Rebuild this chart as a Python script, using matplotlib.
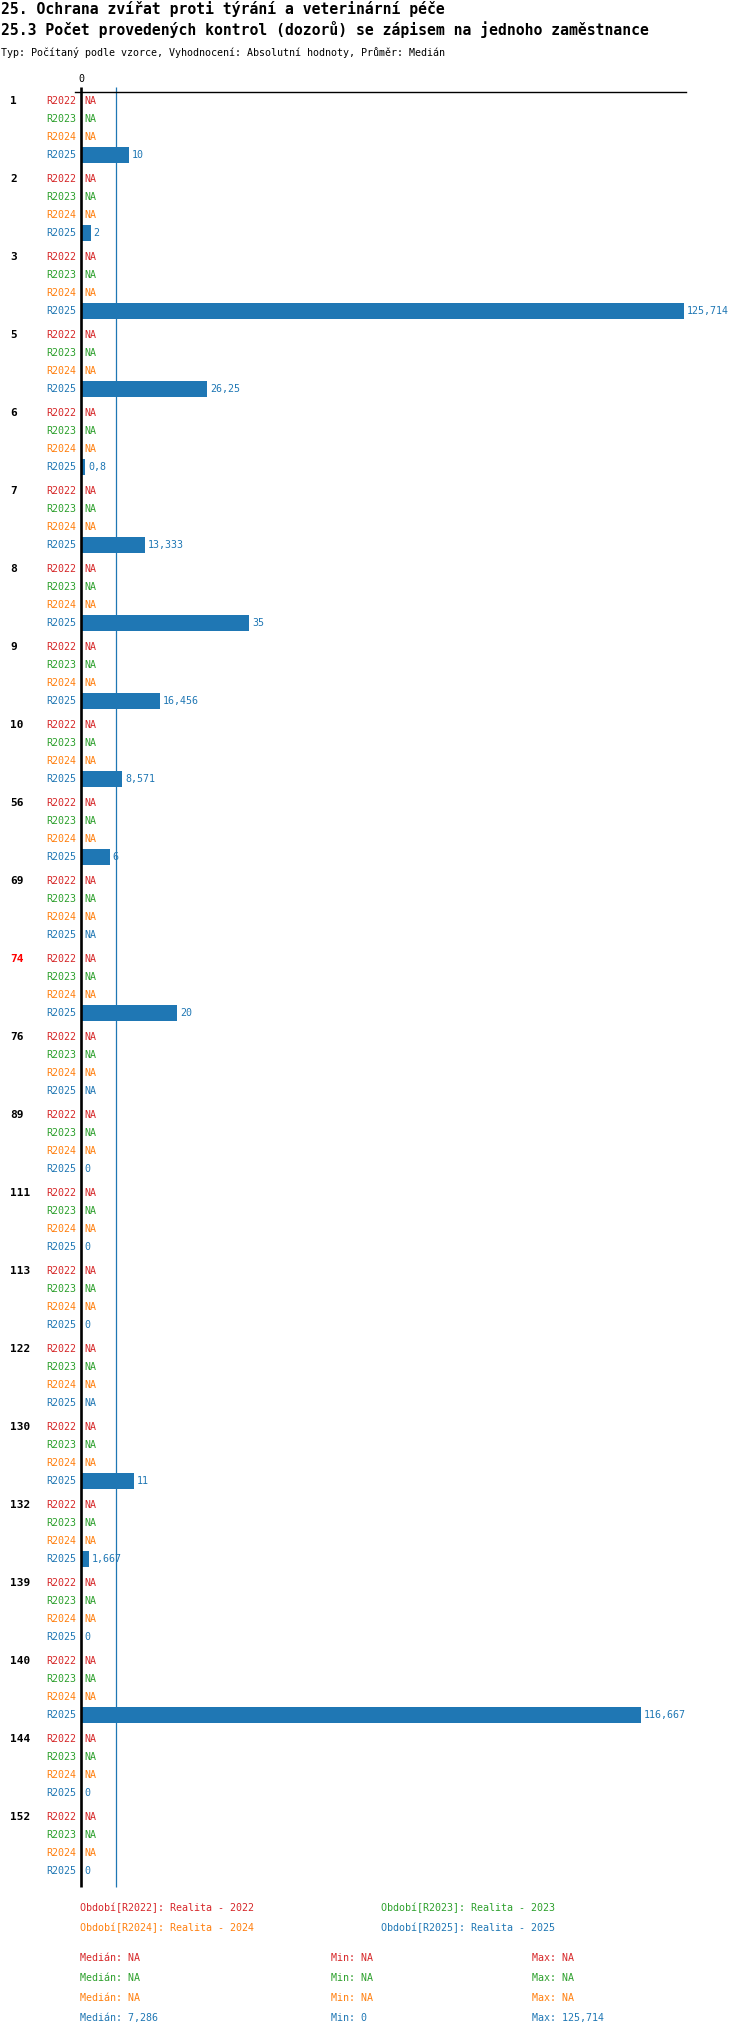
import matplotlib
matplotlib.use("Agg")
import matplotlib.pyplot as plt
import matplotlib.transforms as mtransforms
import numpy as np

# %% Data
groups = ["1", "2", "3", "5", "6", "7", "8", "9", "10", "56", "69", "74", "76",
          "89", "111", "113", "122", "130", "132", "139", "140", "144", "152"]
highlight = ["74"]
periods = ["R2022", "R2023", "R2024", "R2025"]
period_names = ["Realita - 2022", "Realita - 2023", "Realita - 2024", "Realita - 2025"]
colors = ["#d62728", "#2ca02c", "#ff7f0e", "#1f77b4"]
na = np.nan
r2022 = [na] * len(groups)
r2023 = [na] * len(groups)
r2024 = [na] * len(groups)
r2025 = [10, 2, 125.714, 26.25, 0.8, 13.333, 35, 16.456, 8.571, 6, na, 20, na,
         0, 0, 0, na, 11, 1.667, 0, 116.667, 0, 0]
series = [r2022, r2023, r2024, r2025]

title1 = "25. Ochrana zvířat proti týrání a veterinární péče"
title2 = "25.3 Počet provedených kontrol (dozorů) se zápisem na jednoho zaměstnance"
subtitle = "Typ: Počítaný podle vzorce, Vyhodnocení: Absolutní hodnoty, Průměr: Medián"


def fmt(v):
    if v is None or np.isnan(v):
        return "NA"
    s = f"{v + 1e-9:.3f}".rstrip("0").rstrip(".")
    return s.replace(".", ",")


# %% Layout (pixels)
W, H = 750, 2036
FONT = "DejaVu Sans Mono"
plt.rcParams["font.family"] = [FONT, "DejaVu Sans"]

fig = plt.figure(figsize=(W / 100, H / 100), dpi=100)


def fx(px):
    return px / W


def fy(py):
    return 1 - py / H


fig.text(fx(1), fy(9), title1, fontsize=10.6, fontweight="bold", va="center")
fig.text(fx(1), fy(30), title2, fontsize=10.6, fontweight="bold", va="center")
fig.text(fx(1), fy(52), subtitle, fontsize=7.2, va="center")

top_px, bot_px = 92, 1887
left_px, right_px, zero_px = 75, 686, 81
ax = fig.add_axes([fx(left_px), 1 - bot_px / H, (right_px - left_px) / W, (bot_px - top_px) / H])

vals = np.array(r2025, dtype=float)
vmax = np.nanmax(vals)
ppu = 603 / vmax
ax.set_xlim((left_px - zero_px) / ppu, (right_px - zero_px) / ppu)
ax.set_ylim(bot_px, top_px)

for s in ["left", "right", "bottom"]:
    ax.spines[s].set_visible(False)
ax.spines["top"].set_linewidth(1.0)
ax.xaxis.tick_top()
ax.set_xticks([0])
ax.set_xticklabels(["0"], fontsize=7.2)
ax.tick_params(axis="x", length=0, pad=6)
ax.set_yticks([])

row0, gstep, rstep = 101, 78, 18
blend = mtransforms.blended_transform_factory(fig.transFigure, ax.transData)

for g, name in enumerate(groups):
    gy = row0 + g * gstep
    ax.text(fx(10), gy, name, transform=blend, fontsize=8, fontweight="bold",
            color="red" if name in highlight else "black", va="center", ha="left")
    for r, (per, col, ser) in enumerate(zip(periods, colors, series)):
        y = gy + r * rstep
        v = ser[g]
        ax.annotate(per, xy=(0, y), xytext=(-3.2, 0), textcoords="offset points",
                    ha="right", va="center", fontsize=7.2, color=col)
        if not np.isnan(v):
            ax.barh(y, v, height=16, color=col, left=0)
            ax.annotate(fmt(v), xy=(v, y), xytext=(2.2, 0), textcoords="offset points",
                        ha="left", va="center", fontsize=7.2, color=col)
        else:
            ax.annotate("NA", xy=(0, y), xytext=(2.2, 0), textcoords="offset points",
                        ha="left", va="center", fontsize=7.2, color=col)

# zero line and median line
med = np.nanmedian(vals)
ax.plot([0, 0], [bot_px, 87], color="black", lw=1.9, clip_on=False, solid_capstyle="butt")
ax.plot([med, med], [bot_px, 87], color=colors[3], lw=0.9, clip_on=False, solid_capstyle="butt")

# %% Legend
leg_pos = [(80, 1908), (381, 1908), (80, 1928), (381, 1928)]
for (lx, ly), per, nm, col in zip(leg_pos, periods, period_names, colors):
    fig.text(fx(lx), fy(ly), f"Období[{per}]: {nm}", fontsize=7.2, color=col, va="center")

for i, (ser, col) in enumerate(zip(series, colors)):
    a = np.array(ser, dtype=float)
    if np.all(np.isnan(a)):
        md = mn = mx = "NA"
    else:
        md, mn, mx = fmt(np.nanmedian(a)), fmt(np.nanmin(a)), fmt(np.nanmax(a))
    y = 1958 + i * 20
    fig.text(fx(80), fy(y), f"Medián: {md}", fontsize=7.2, color=col, va="center")
    fig.text(fx(331), fy(y), f"Min: {mn}", fontsize=7.2, color=col, va="center")
    fig.text(fx(532), fy(y), f"Max: {mx}", fontsize=7.2, color=col, va="center")

fig.savefig("out.png", dpi=100)
